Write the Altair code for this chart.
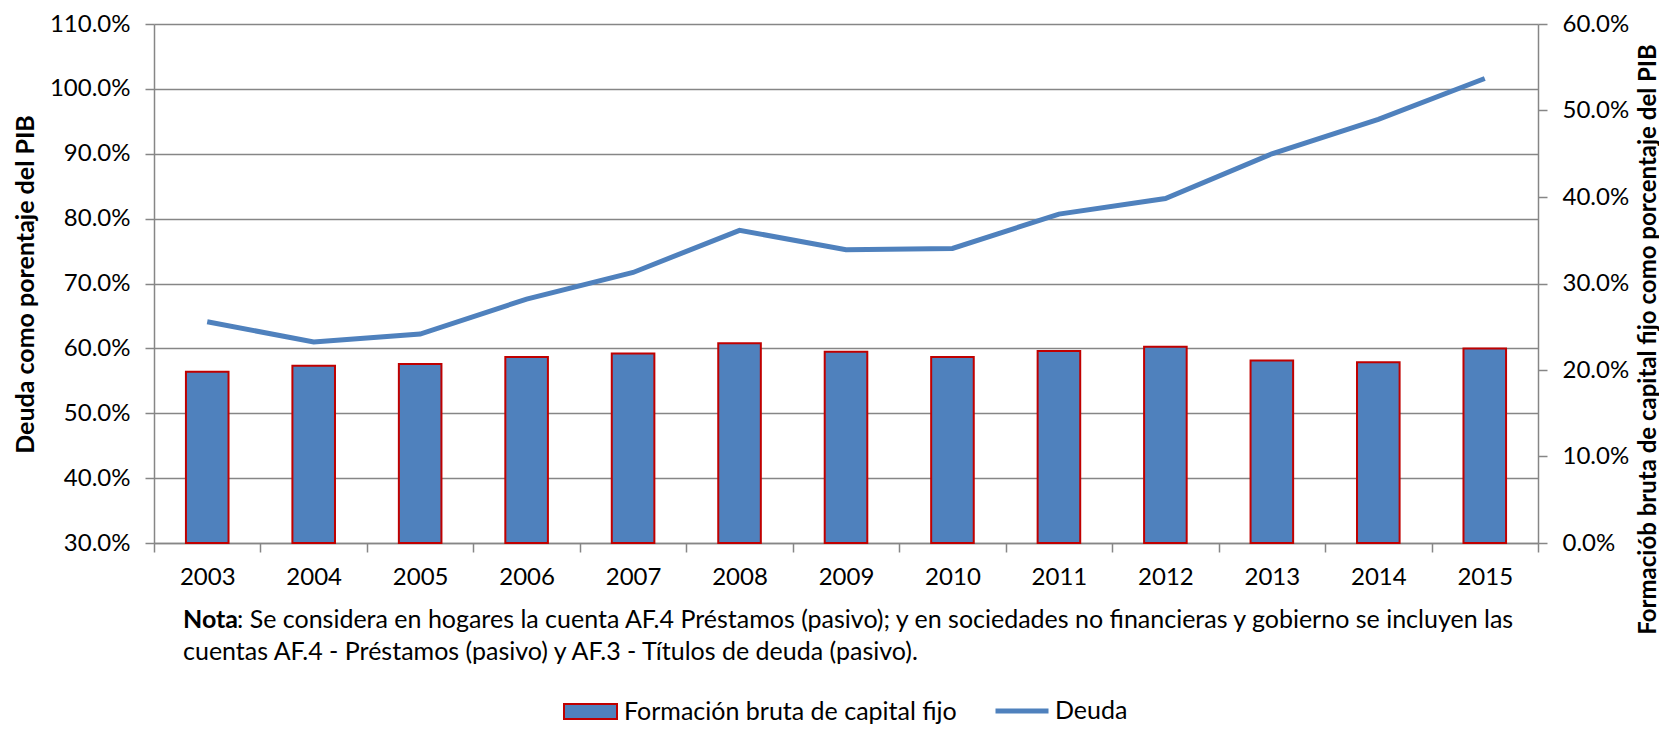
import altair as alt
import pandas as pd

FONT = "Lato"

years = ["2003", "2004", "2005", "2006", "2007", "2008", "2009",
         "2010", "2011", "2012", "2013", "2014", "2015"]
# Formación bruta de capital fijo (% del PIB), right axis
fbcf = [19.8, 20.5, 20.7, 21.5, 21.9, 23.1, 22.1, 21.5, 22.2, 22.7, 21.1, 20.9, 22.5]
# Deuda (% del PIB), left axis
deuda = [64.1, 61.0, 62.2, 67.6, 71.7, 78.2, 75.2, 75.4, 80.7, 83.1, 90.0, 95.3, 101.6]

left_ticks = [0.3, 0.4, 0.5, 0.6, 0.7, 0.8, 0.9, 1.0, 1.1]
right_ticks = [0.0, 0.1, 0.2, 0.3, 0.4, 0.5, 0.6]

bar_label = "Formación bruta de capital fijo"
line_label = "Deuda"
left_title = "Deuda como porentaje del PIB"
right_title = "Formaciób bruta de capital fijo como porcentaje del PIB"
note_bold = "Nota"
note_line1 = ": Se considera en hogares la cuenta AF.4 Préstamos (pasivo); y en sociedades no financieras y gobierno se incluyen las"
note_line2 = "cuentas AF.4 - Préstamos (pasivo) y AF.3 - Títulos de deuda (pasivo)."

df = pd.DataFrame({
    "Año": years,
    "FBCF": [v / 100 for v in fbcf],
    "Deuda": [v / 100 for v in deuda],
    "s1": [bar_label] * len(years),
    "s2": [line_label] * len(years),
})

BLUE = "#4F81BD"
RED = "#C00000"
GRAY = "#868686"

x_enc = alt.X(
    "Año:N", sort=years, title=None,
    scale=alt.Scale(paddingInner=0, paddingOuter=0),
    axis=alt.Axis(labelAngle=0, tickBand="extent", tickSize=9, labelPadding=13,
                  labelFontSize=24, grid=False),
)

bars = alt.Chart(df).mark_bar(
    stroke=RED, strokeWidth=2, width=alt.RelativeBandSize(0.4)
).encode(
    x=x_enc,
    y=alt.Y("FBCF:Q",
            scale=alt.Scale(domain=[0, 0.6], nice=False, zero=True),
            axis=alt.Axis(orient="right", format=".1%", values=right_ticks, grid=False,
                          tickSize=9, labelPadding=15, labelFontSize=24,
                          title=right_title, titleAngle=270, titleX=117, titleY=315,
                          titleBaseline="alphabetic", titleAlign="center",
                          titleFontSize=24, titleFontWeight="bold", titleLimit=1000)),
    color=alt.Color("s1:N",
                    scale=alt.Scale(domain=[bar_label], range=[BLUE]),
                    legend=alt.Legend(title=None, orient="none", legendX=409, legendY=660,
                                      symbolType="M-1,-0.283H1V0.283H-1Z", symbolSize=2809,
                                      symbolStrokeColor=RED, symbolStrokeWidth=2,
                                      symbolOpacity=1,
                                      labelFont=FONT, labelFontSize=25, labelColor="black",
                                      labelOffset=6, labelLimit=800, padding=0)),
)

line = alt.Chart(df).mark_line(strokeWidth=5).encode(
    x=x_enc,
    y=alt.Y("Deuda:Q",
            scale=alt.Scale(domain=[0.3, 1.1], nice=False, zero=False),
            axis=alt.Axis(orient="left", format=".1%", values=left_ticks, grid=True,
                          tickSize=9, labelPadding=15, labelFontSize=24,
                          title=left_title, titleAngle=270, titleX=-121, titleY=260,
                          titleBaseline="alphabetic", titleAlign="center",
                          titleFontSize=25, titleFontWeight="bold", titleLimit=1000)),
    stroke=alt.Stroke("s2:N",
                      scale=alt.Scale(domain=[line_label], range=[BLUE]),
                      legend=alt.Legend(title=None, orient="none", legendX=839, legendY=658,
                                        symbolType="stroke", symbolSize=2809,
                                        symbolStrokeWidth=5,
                                        labelFont=FONT, labelFontSize=25, labelColor="black",
                                        labelOffset=4, labelLimit=800, padding=0)),
)

n_bold = alt.Chart(pd.DataFrame({"t": [note_bold]})).mark_text(
    align="left", baseline="alphabetic", font=FONT, fontSize=25, fontWeight="bold", color="black"
).encode(x=alt.value(29), y=alt.value(604), text="t:N")

n_l1 = alt.Chart(pd.DataFrame({"t": [note_line1]})).mark_text(
    align="left", baseline="alphabetic", font=FONT, fontSize=25, color="black"
).encode(x=alt.value(83), y=alt.value(604), text="t:N")

n_l2 = alt.Chart(pd.DataFrame({"t": [note_line2]})).mark_text(
    align="left", baseline="alphabetic", font=FONT, fontSize=25, color="black"
).encode(x=alt.value(29), y=alt.value(636), text="t:N")

chart = alt.layer(bars, line, n_bold, n_l1, n_l2).resolve_scale(
    y="independent"
).properties(
    width=1384, height=519,
    autosize=alt.AutoSizeParams(type="none"),
    padding={"left": 146, "top": 16, "right": 121, "bottom": 184},
).configure_axis(
    labelFont=FONT, titleFont=FONT, labelColor="black", titleColor="black",
    domainColor=GRAY, tickColor=GRAY, gridColor=GRAY,
    domainWidth=1.5, tickWidth=1.5, gridWidth=1.5,
).configure_view(strokeWidth=0)

chart.save("out.html", embed_options={"renderer": "svg", "actions": False})
